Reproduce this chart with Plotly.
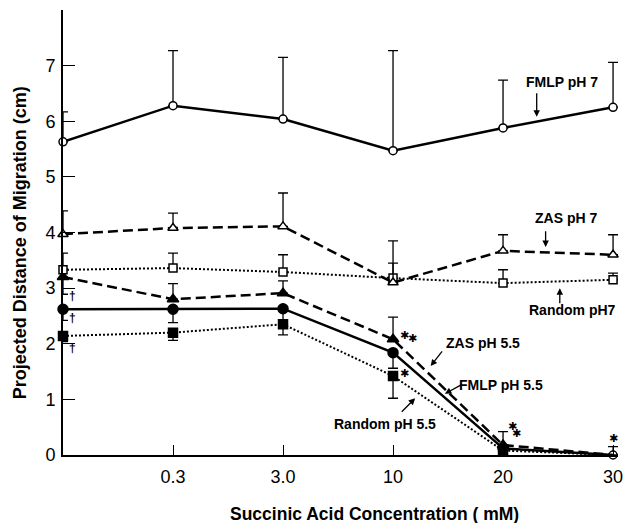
import plotly.graph_objects as go

# ---- data ----
x_idx = [0, 1, 2, 3, 4, 5]
tick_labels = ["0.3", "3.0", "10", "20", "30"]

fmlp7 = [5.63, 6.28, 6.04, 5.47, 5.88, 6.25]
fmlp7_up = [0.54, 0.99, 1.11, 1.80, 0.86, 0.81]

zas7 = [3.97, 4.08, 4.11, 3.10, 3.67, 3.60]
zas7_up = [0.42, 0.27, 0.60, 0.75, 0.29, 0.36]

rand7 = [3.33, 3.36, 3.29, 3.18, 3.09, 3.15]
rand7_up = [0.30, 0.27, 0.31, 0.27, 0.24, 0.12]

zas55 = [3.20, 2.80, 2.91, 2.08, 0.18, 0.0]
zas55_up = [0.0, 0.28, 0.22, 0.40, 0.24, 0.0]
zas55_dn = [0.31, 0.0, 0.0, 0.0, 0.0, 0.0]

fmlp55 = [2.62, 2.62, 2.63, 1.84, 0.12, 0.0]
fmlp55_up = [0.0, 0.0, 0.0, 0.0, 0.0, 0.15]
fmlp55_dn = [0.20, 0.24, 0.35, 0.28, 0.0, 0.0]

rand55 = [2.14, 2.20, 2.35, 1.42, 0.08, 0.0]
rand55_dn = [0.10, 0.14, 0.19, 0.40, 0.08, 0.0]

FONT = "Liberation Sans"
BLK = "black"

fig = go.Figure()


def add(y, up, dn, dash, width, symbol, filled, sizes=None, colors=None):
    if colors is None:
        colors = BLK if filled else "white"
    fig.add_trace(go.Scatter(
        x=x_idx, y=y, mode="lines+markers", cliponaxis=False,
        line=dict(color=BLK, width=width, dash=dash),
        marker=dict(symbol=symbol, size=sizes if sizes else 9, color=colors,
                    opacity=1, line=dict(color=BLK, width=1.5)),
        error_y=dict(type="data", symmetric=False, array=up, arrayminus=dn,
                     color=BLK, thickness=1.3, width=5),
        showlegend=False,
    ))


zeros = [0] * 6
add(rand55, zeros, rand55_dn, "2px,2px", 2, "square", True, sizes=[9, 9, 9, 9, 9, 0])
add(fmlp55, fmlp55_up, fmlp55_dn, "solid", 2.5, "circle", True,
    sizes=[10, 10, 10, 10, 10, 8], colors=[BLK] * 5 + ["white"])
add(zas55, zas55_up, zas55_dn, "10px,5px", 2.5, "triangle-up", True, sizes=[10, 10, 10, 10, 10, 0])
add(rand7, rand7_up, zeros, "2px,2px", 2, "square", False, sizes=8)
add(zas7, zas7_up, zeros, "10px,5px", 2.5, "triangle-up", False, sizes=9)
add(fmlp7, fmlp7_up, zeros, "solid", 2.5, "circle", False, sizes=8)

ann_font = dict(family=FONT, size=14, color=BLK, weight="bold")
labels = [
    ("FMLP pH 7", 4.54, 6.71, 4.306, 6.08, 4.306, 6.53),
    ("ZAS pH 7", 4.57, 4.26, 4.387, 3.74, 4.387, 4.05),
    ("Random pH7", 4.63, 2.61, 4.516, 3.00, 4.516, 2.70),
    ("ZAS pH 5.5", 3.82, 2.02, 3.342, 1.60, 3.457, 1.89),
    ("FMLP pH 5.5", 3.98, 1.26, 3.471, 1.10, 3.637, 1.28),
    ("Random pH 5.5", 2.93, 0.56, 3.201, 1.02, 3.066, 0.75),
]
for txt, tx, ty, hx, hy, sx, sy in labels:
    fig.add_annotation(x=tx, y=ty, text=txt, showarrow=False, font=ann_font,
                       xref="x", yref="y")
    fig.add_annotation(x=hx, y=hy, ax=sx, ay=sy, axref="x", ayref="y",
                       xref="x", yref="y", text="", showarrow=True,
                       arrowhead=2, arrowsize=1, arrowwidth=1.3, arrowcolor=BLK)

stars = [(3.10, 2.14), (3.18, 2.09), (3.10, 1.46), (4.09, 0.52), (4.12, 0.38),
         (4.10, -0.13), (5.0, 0.29)]
for sx, sy in stars:
    fig.add_annotation(x=sx, y=sy, text="✱", showarrow=False,
                       font=dict(family="DejaVu Sans", size=11, color=BLK))

daggers = [(0.09, 2.86), (0.09, 2.46), (0.09, 1.92)]
for dx, dy in daggers:
    fig.add_annotation(x=dx, y=dy, text="†", showarrow=False,
                       font=dict(family=FONT, size=12, color=BLK, weight="bold"))

fig.add_annotation(x=-0.077, y=3.81, xref="paper", yref="y",
                   xanchor="center", yanchor="middle",
                   text="Projected Distance of Migration (cm)", textangle=-90,
                   showarrow=False,
                   font=dict(family=FONT, size=18, color=BLK, weight="bold"))
fig.add_annotation(x=2.83, y=-0.133, xref="x", yref="paper",
                   xanchor="center", yanchor="middle",
                   text="Succinic Acid Concentration ( mM)", showarrow=False,
                   font=dict(family=FONT, size=17.5, color=BLK, weight="bold"))

fig.update_layout(
    width=623, height=523,
    margin=dict(l=63, r=0, t=10, b=68),
    paper_bgcolor="white", plot_bgcolor="white",
    font=dict(family=FONT, size=18, color=BLK),
    xaxis=dict(range=[0, 5.045], tickvals=x_idx[1:], ticktext=tick_labels,
               ticks="inside", ticklen=10, tickwidth=1.3, tickcolor=BLK,
               showline=True, linecolor=BLK, linewidth=2, showgrid=False,
               zeroline=False, tickfont=dict(size=18),
               ticklabeloverflow="allow", ticklabelstandoff=4),
    yaxis=dict(range=[0, 8], tickvals=[0, 1, 2, 3, 4, 5, 6, 7, 8],
               ticktext=["0", "1", "2", "3", "4", "5", "6", "7", ""],
               ticks="inside", ticklen=12, tickwidth=1.3, tickcolor=BLK,
               showline=True, linecolor=BLK, linewidth=2, showgrid=False,
               zeroline=False, tickfont=dict(size=18), ticklabelstandoff=2),
)

fig.write_html("out.html")
